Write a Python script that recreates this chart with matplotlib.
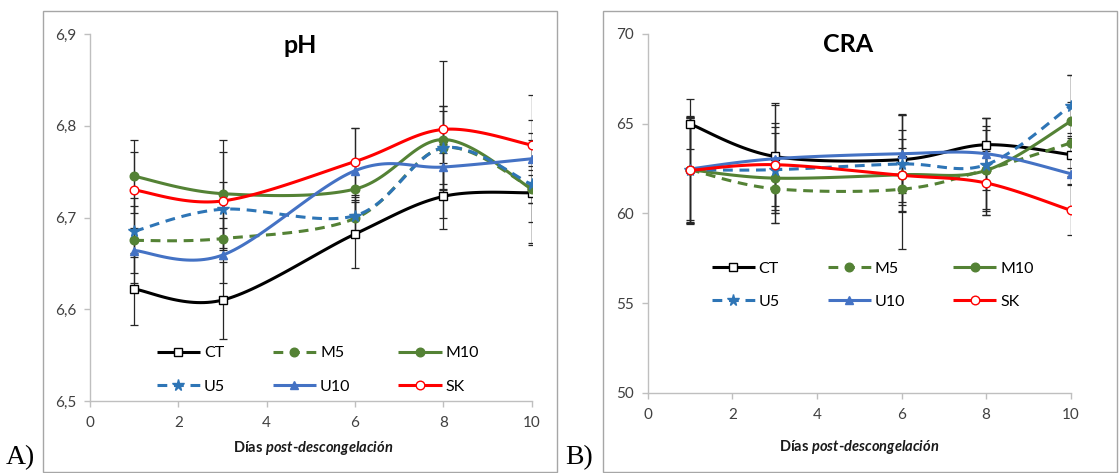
import numpy as np
import matplotlib
matplotlib.use("Agg")
import matplotlib.pyplot as plt
from matplotlib.patches import Rectangle
from matplotlib.ticker import FuncFormatter

plt.rcParams['font.family'] = ['Lato', 'DejaVu Sans']
plt.rcParams['mathtext.fontset'] = 'custom'
plt.rcParams['mathtext.bfit'] = 'Lato:bold:italic'
plt.rcParams['mathtext.bf'] = 'Lato:bold'
plt.rcParams['mathtext.it'] = 'Lato:italic'
plt.rcParams['mathtext.rm'] = 'Lato'

days = [1, 3, 6, 8, 10]
series_names = ["CT", "M5", "M10", "U5", "U10", "SK"]

# pH means and errors
ph_CT = [6.622, 6.610, 6.682, 6.723, 6.727]
ph_M5 = [6.675, 6.677, 6.699, 6.776, 6.732]
ph_M10 = [6.745, 6.726, 6.731, 6.785, 6.731]
ph_U5 = [6.685, 6.709, 6.702, 6.776, 6.736]
ph_U10 = [6.664, 6.659, 6.751, 6.755, 6.764]
ph_SK = [6.730, 6.718, 6.761, 6.796, 6.779]

ph_err_CT = [0.039, 0.042, 0.037, 0.036, 0.057]
ph_err_M5 = [0.046, 0.022, 0.018, 0.045, 0.060]
ph_err_M10 = [0.040, 0.059, 0.030, 0.086, 0.015]
ph_err_U5 = [0.028, 0.030, 0.020, 0.040, 0.020]
ph_err_U10 = [0.024, 0.030, 0.047, 0.025, 0.069]
ph_err_SK = [0.041, 0.053, 0.037, 0.026, 0.027]

# CRA means and errors
cra_CT = [64.99, 63.18, 63.00, 63.83, 63.28]
cra_M5 = [62.44, 61.38, 61.35, 62.44, 63.93]
cra_M10 = [62.44, 61.97, 62.16, 62.40, 65.13]
cra_U5 = [62.44, 62.44, 62.76, 62.72, 66.00]
cra_U10 = [62.48, 63.05, 63.33, 63.33, 62.22]
cra_SK = [62.40, 62.72, 62.13, 61.70, 60.18]

cra_err_CT = [1.40, 3.00, 2.50, 1.50, 1.20]
cra_err_M5 = [3.00, 1.90, 3.30, 2.20, 2.30]
cra_err_M10 = [2.95, 2.50, 2.00, 2.50, 2.60]
cra_err_U5 = [2.90, 2.40, 2.70, 2.60, 1.70]
cra_err_U10 = [2.85, 3.00, 2.20, 2.00, 2.00]
cra_err_SK = [2.95, 2.30, 1.50, 1.80, 1.40]

green = '#548235'
styles = {
    "CT": dict(color='black', ls='-', marker='s', mfc='white', mec='black'),
    "M5": dict(color=green, ls=(0, (3.2, 2.2)), marker='o', mfc=green, mec=green),
    "M10": dict(color=green, ls='-', marker='o', mfc=green, mec=green),
    "U5": dict(color='#2E75B6', ls=(0, (3.2, 2.2)), marker='*', mfc='#2E75B6', mec='#2E75B6'),
    "U10": dict(color='#4472C4', ls='-', marker='^', mfc='#4472C4', mec='#4472C4'),
    "SK": dict(color='#FF0000', ls='-', marker='o', mfc='white', mec='#FF0000'),
}


def smooth(x, y, n=30):
    x = np.asarray(x, float)
    y = np.asarray(y, float)
    P = np.column_stack([x, y])
    k = len(P)
    out = []
    for i in range(k - 1):
        p0 = P[i]
        p3 = P[i + 1]
        pm = P[i - 1] if i > 0 else P[i]
        pp = P[i + 2] if i + 2 < k else P[i + 1]
        c1 = p0 + (p3 - pm) / 6.0
        c2 = p3 - (pp - p0) / 6.0
        t = np.linspace(0, 1, n + 1)[:, None]
        if i > 0:
            t = t[1:]
        seg = ((1 - t) ** 3) * p0 + 3 * ((1 - t) ** 2) * t * c1 + 3 * (1 - t) * t ** 2 * c2 + t ** 3 * p3
        out.append(seg)
    pts = np.vstack(out)
    marks = [i * n for i in range(k)]
    return pts[:, 0], pts[:, 1], marks


W, H = 1119, 473
fig = plt.figure(figsize=(W / 100, H / 100), dpi=100)

# panel frames
for x0, w in [(43 / W, 514 / W), (603 / W, 514 / W)]:
    fig.patches.append(Rectangle((x0, 0.002), w, 1 - 11 / H - 0.002, transform=fig.transFigure,
                                 fill=False, edgecolor='#A6A6A6', lw=1.0))

ax1 = fig.add_axes([90 / W, 1 - 401 / H, (531.7 - 90) / W, (401 - 34) / H])
ax2 = fig.add_axes([647.7 / W, 1 - 393 / H, (1070.7 - 647.7) / W, (393 - 34) / H])

ph_data = {"CT": (ph_CT, ph_err_CT), "M5": (ph_M5, ph_err_M5), "M10": (ph_M10, ph_err_M10),
           "U5": (ph_U5, ph_err_U5), "U10": (ph_U10, ph_err_U10), "SK": (ph_SK, ph_err_SK)}
cra_data = {"CT": (cra_CT, cra_err_CT), "M5": (cra_M5, cra_err_M5), "M10": (cra_M10, cra_err_M10),
            "U5": (cra_U5, cra_err_U5), "U10": (cra_U10, cra_err_U10), "SK": (cra_SK, cra_err_SK)}


def draw(ax, data, ylim, yticks, fmt, title, title_xy, legend_anchor, xlabel_xy):
    handles = {}
    for name in series_names:
        vals, errs = data[name]
        ax.errorbar(days, vals, yerr=errs, fmt='none', ecolor='#262626', elinewidth=0.9,
                    capsize=3.2, capthick=0.9, zorder=2)
    for name in series_names:
        vals, errs = data[name]
        st = styles[name]
        xs, ys, marks = smooth(days, vals)
        h, = ax.plot(xs, ys, color=st['color'], ls=st['ls'], lw=2.2, marker=st['marker'],
                     markevery=marks, ms=(8.5 if st['marker'] == '*' else 6.2),
                     mfc=st['mfc'], mec=st['mec'], mew=1.0, label=name, zorder=3,
                     solid_capstyle='butt', dash_capstyle='butt')
        handles[name] = h
    ax.set_xlim(0, 10)
    ax.set_ylim(*ylim)
    ax.set_xticks([0, 2, 4, 6, 8, 10])
    ax.set_yticks(yticks)
    ax.yaxis.set_major_formatter(FuncFormatter(fmt))
    for s in ['top', 'right']:
        ax.spines[s].set_visible(False)
    for s in ['left', 'bottom']:
        ax.spines[s].set_color('#BFBFBF')
        ax.spines[s].set_linewidth(1.0)
    ax.tick_params(axis='both', colors='#BFBFBF', labelcolor='#404040', labelsize=11,
                   length=4, width=1.0, direction='out')
    ax.tick_params(axis='y', pad=6)
    ax.tick_params(axis='x', pad=7)
    fig.text(title_xy[0] / W, 1 - title_xy[1] / H, title, fontsize=18, fontweight='bold',
             ha='center', va='baseline')
    fig.text(xlabel_xy[0] / W, 1 - xlabel_xy[1] / H,
             r'Días $\mathbfit{post}$-$\mathbfit{descongelación}$', fontsize=10.5,
             fontweight='bold', ha='center', va='baseline', color='#1a1a1a')
    order = ["CT", "U5", "M5", "U10", "M10", "SK"]
    ax.legend([handles[n] for n in order], order, ncol=3, loc='center', bbox_to_anchor=legend_anchor,
              frameon=False, fontsize=11.5, handlelength=2.7, columnspacing=3.0, labelspacing=1.2,
              handletextpad=0.25, numpoints=1)


draw(ax1, ph_data, (6.5, 6.9), [6.5, 6.6, 6.7, 6.8, 6.9],
     lambda v, p: f"{v:.1f}".replace('.', ','), 'pH', (300, 53), (0.516, 0.085), (313, 452))
draw(ax2, cra_data, (50, 70), [50, 55, 60, 65, 70],
     lambda v, p: f"{v:.0f}", 'CRA', (848, 52), (0.532, 0.30), (859, 451))

fig.text(6 / W, 1 - 464 / H, 'A)', fontsize=20, family='Liberation Serif', va='baseline', ha='left')
fig.text(565 / W, 1 - 464 / H, 'B)', fontsize=20, family='Liberation Serif', va='baseline', ha='left')

fig.savefig('out.png', dpi=100)
